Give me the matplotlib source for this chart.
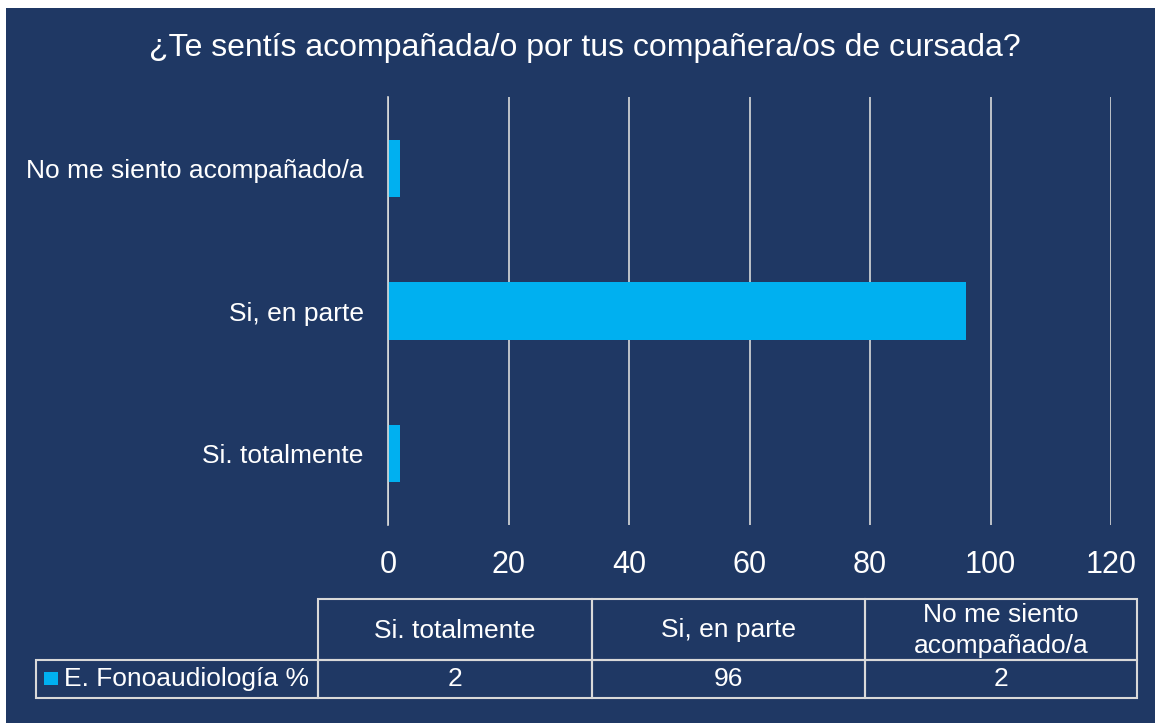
import matplotlib
matplotlib.use('Agg')
import matplotlib.pyplot as plt
from matplotlib.patches import Rectangle

plt.rcParams['font.family'] = ['Liberation Sans', 'DejaVu Sans']

# data
categorias = ['Si. totalmente', 'Si, en parte', 'No me siento acompañado/a']
valores = [2, 96, 2]
serie = 'E. Fonoaudiología %'
ticks_x = [0, 20, 40, 60, 80, 100, 120]
titulo = '¿Te sentís acompañada/o por tus compañera/os de cursada?'
encabezados = ['Si. totalmente', 'Si, en parte', 'No me siento\nacompañado/a']

fondo = '#1F3864'
celeste = '#00B0F0'
linea = '#D9D9D9'

W, H = 1158, 723
fig = plt.figure(figsize=(W / 100, H / 100), dpi=100, facecolor='white')

def fx(px):
    return px / W

def fy(py):
    return 1 - py / H

# navy panel
fig.patches.append(Rectangle((fx(6), 0), fx(1155) - fx(6), fy(8), transform=fig.transFigure,
                             facecolor=fondo, edgecolor='none', zorder=-5))

fig.text(fx(585), fy(48), titulo, color='white', fontsize=23, ha='center', va='center')

ax = fig.add_axes([fx(388), fy(525), fx(1111) - fx(388), fy(97) - fy(525)])
ax.set_facecolor('none')
ax.barh(range(len(categorias)), valores, height=0.4, color=celeste, zorder=3)
ax.set_ylim(-0.5, len(categorias) - 0.5)
ax.set_xlim(ticks_x[0], ticks_x[-1])
ax.set_xticks(ticks_x)
ax.set_xticklabels([str(t) for t in ticks_x], fontsize=22, color='white')
ax.set_yticks(range(len(categorias)))
ax.set_yticklabels(categorias, fontsize=19, color='white')
ax.tick_params(axis='x', length=0, pad=18)
ax.tick_params(axis='y', length=0, pad=17.5)
for s in ['top', 'right', 'bottom']:
    ax.spines[s].set_visible(False)
ax.spines['left'].set_color(linea)
ax.spines['left'].set_linewidth(1.2)
ax.spines['left'].set_zorder(4)
ax.xaxis.grid(True, color=linea, linewidth=1.2)
ax.set_axisbelow(True)

# data table (drawn in pixel-like units)
tax = fig.add_axes([0, 0, 1, 1])
tax.set_xlim(0, W)
tax.set_ylim(H, 0)
tax.axis('off')
col_x = [318, 592, 865, 1137]
fila_y = [599, 660, 698]
borde = dict(facecolor='none', edgecolor=linea, linewidth=1.5)
for j, enc in enumerate(encabezados):
    x0, x1 = col_x[j], col_x[j + 1]
    tax.add_patch(Rectangle((x0, fila_y[0]), x1 - x0, fila_y[1] - fila_y[0], **borde))
    tax.add_patch(Rectangle((x0, fila_y[1]), x1 - x0, fila_y[2] - fila_y[1], **borde))
    tax.text((x0 + x1) / 2, (fila_y[0] + fila_y[1]) / 2 + 1, enc, color='white', fontsize=19,
             ha='center', va='center', multialignment='center', linespacing=1.4)
    tax.text((x0 + x1) / 2, (fila_y[1] + fila_y[2]) / 2, str(valores[j]), color='white',
             fontsize=19, ha='center', va='center')
tax.add_patch(Rectangle((36, fila_y[1]), col_x[0] - 36, fila_y[2] - fila_y[1], **borde))
tax.text(64, (fila_y[1] + fila_y[2]) / 2, serie, color='white', fontsize=19, ha='left', va='center')
# legend key
tax.add_patch(Rectangle((44, 672), 14, 13, facecolor=celeste, edgecolor='none'))

fig.savefig('out.png', dpi=100, facecolor=fig.get_facecolor())
